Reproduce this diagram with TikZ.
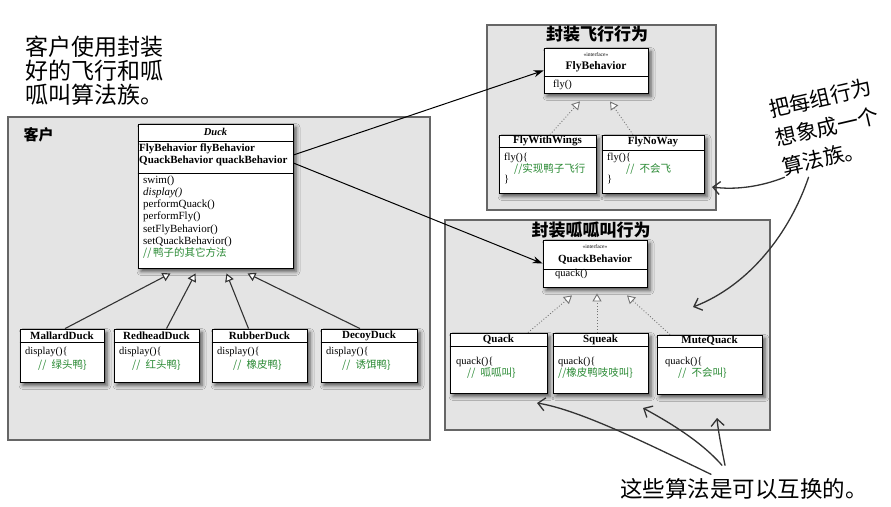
\documentclass[tikz,border=0pt]{standalone}
\usepackage{fontspec}
\setmainfont{Liberation Serif}
\newfontfamily\cjk{Noto Sans CJK SC}
\usetikzlibrary{arrows.meta,shadows.blur}
\definecolor{panelgray}{HTML}{E4E4E4}
\definecolor{paneledge}{HTML}{666666}
\definecolor{commentgreen}{HTML}{2A8A34}
\definecolor{penink}{HTML}{333333}
\newcommand{\cmt}[1]{{\color{commentgreen}\cjk\fontsize{10.5}{12.2}\selectfont #1}}

\begin{document}
\begin{tikzpicture}[x=1pt,y=-1pt,
    panel/.style={draw=paneledge, line width=1.6pt, fill=panelgray, inner sep=0pt},
    classbox/.style={draw, fill=white, line width=0.8pt, inner sep=0pt,
        blur shadow={shadow xshift=3pt, shadow yshift=-3.5pt, shadow blur radius=4pt, shadow opacity=65}},
    ctitle/.style={font=\fontsize{11}{12}\selectfont\bfseries, inner sep=0pt},
    cbody/.style={font=\fontsize{11}{12.2}\selectfont, align=left, inner sep=0pt, anchor=north west},
    note/.style={font=\cjk\fontsize{23}{24}\selectfont, align=left, inner sep=0pt},
    ptitle/.style={font=\cjk\bfseries\fontsize{17}{20}\selectfont, inner sep=0pt},
    inherit/.style={draw=black!80, line width=1.1pt, -{Triangle[open, fill=white, length=8pt, width=9pt]}},
    realize/.style={draw=black!55, dotted, line width=0.9pt, -{Triangle[open, fill=white, length=8pt, width=9pt]}},
    has/.style={line width=1pt, -{Stealth[length=10pt, width=7pt]}},
    pen/.style={draw=penink, line width=1.3pt, line cap=round, -{Straight Barb[length=7pt, width=13pt]}}]

        \fill[white] (0,0) rectangle (891,506);
        \useasboundingbox (0,0) rectangle (891,506);

        % panels
        \node[panel, minimum width=422pt, minimum height=323pt] (client) at (219,278.5) {};
        \node[panel, minimum width=229pt, minimum height=185pt] (flypanel) at (601.5,117.5) {};
        \node[panel, minimum width=325pt, minimum height=210pt] (quackpanel) at (607.5,325) {};
        \node[ptitle, font=\cjk\bfseries\fontsize{15}{18}\selectfont] (clientname) at (38.5,135) {客户};
        \node[ptitle] (flytitle) at (597,34) {封装飞行行为};
        \node[ptitle] (quacktitle) at (591,230) {封装呱呱叫行为};

        % Duck
        \node[classbox, minimum width=155pt, minimum height=144pt] (duck) at (215.5,196) {};
        \node[ctitle, font=\fontsize{10.5}{12}\selectfont\bfseries\itshape] (duckname) at (215.5,132) {Duck};
        \draw (duck.west |- 0,141) -- (duck.east |- 0,141);
        \node[cbody, font=\fontsize{11}{12}\selectfont\bfseries] (duckattr) at (139,144) {FlyBehavior flyBehavior\\QuackBehavior quackBehavior};
        \draw (duck.west |- 0,173) -- (duck.east |- 0,173);
        \node[cbody] (duckops) at (143,175.5) {swim()\\\textit{display()}\\performQuack()\\performFly()\\setFlyBehavior()\\setQuackBehavior()\\\cmt{//\,鸭子的其它方法}};

        % ducks
        \node[classbox, minimum width=84pt, minimum height=53pt] (mallard) at (62,355.5) {};
        \node[ctitle] (mallardname) at (62,335.5) {MallardDuck};
        \draw (mallard.west |- 0,342) -- (mallard.east |- 0,342);
        \node[cbody, font=\fontsize{10.5}{14}\selectfont] (mallardops) at (25,347.5) {display()\{\\\hspace*{13pt}\cmt{//\enspace 绿头鸭\}}};

        \node[classbox, minimum width=85pt, minimum height=53pt] (redhead) at (156.5,355.5) {};
        \node[ctitle] (redheadname) at (156.5,335.5) {RedheadDuck};
        \draw (redhead.west |- 0,342) -- (redhead.east |- 0,342);
        \node[cbody, font=\fontsize{10.5}{14}\selectfont] (redheadops) at (119,347.5) {display()\{\\\hspace*{13pt}\cmt{//\enspace 红头鸭\}}};

        \node[classbox, minimum width=95pt, minimum height=53pt] (rubber) at (259.5,355.5) {};
        \node[ctitle] (rubbername) at (259.5,335.5) {RubberDuck};
        \draw (rubber.west |- 0,342) -- (rubber.east |- 0,342);
        \node[cbody, font=\fontsize{10.5}{14}\selectfont] (rubberops) at (217,347.5) {display()\{\\\hspace*{16pt}\cmt{//\enspace 橡皮鸭\}}};

        \node[classbox, minimum width=96pt, minimum height=53pt] (decoy) at (369,355.5) {};
        \node[ctitle] (decoyname) at (369,335.5) {DecoyDuck};
        \draw (decoy.west |- 0,342) -- (decoy.east |- 0,342);
        \node[cbody, font=\fontsize{10.5}{14}\selectfont] (decoyops) at (326,347.5) {display()\{\\\hspace*{16pt}\cmt{//\enspace 诱饵鸭\}}};

        \draw[inherit] ([xshift=3pt]mallard.north) -- ([xshift=-45pt,yshift=-5pt]duck.south);
        \draw[inherit] ([xshift=10pt]redhead.north) -- ([xshift=-20pt,yshift=-5pt]duck.south);
        \draw[inherit] ([xshift=-11pt]rubber.north) -- ([xshift=11pt,yshift=-5pt]duck.south);
        \draw[inherit] ([xshift=-9pt]decoy.north) -- ([xshift=32pt,yshift=-5pt]duck.south);

        % fly behaviours
        \node[classbox, minimum width=104pt, minimum height=45pt] (flybeh) at (596,70.5) {};
        \node[inner sep=0pt, font=\fontsize{5.5}{6}\selectfont] (flystereo) at (596,55) {<<interface>>};
        \node[ctitle, font=\fontsize{11.5}{12}\selectfont\bfseries] (flybehname) at (596,67) {FlyBehavior};
        \draw (flybeh.west |- 0,76) -- (flybeh.east |- 0,76);
        \node[cbody, font=\fontsize{10.5}{12}\selectfont] (flybehops) at (553,79.5) {fly()};

        \node[classbox, minimum width=97pt, minimum height=58pt] (flywings) at (547.5,164) {};
        \node[ctitle] (flywingsname) at (547.5,141) {FlyWithWings};
        \draw (flywings.west |- 0,147) -- (flywings.east |- 0,147);
        \node[cbody, font=\fontsize{10.5}{10.5}\selectfont] (flywingsops) at (504,152.5) {fly()\{\\\hspace*{10pt}\cmt{//实现鸭子飞行}\\\}};

        \node[classbox, minimum width=102pt, minimum height=58pt] (flynoway) at (653,164) {};
        \node[ctitle] (flynowayname) at (653,142) {FlyNoWay};
        \draw (flynoway.west |- 0,150) -- (flynoway.east |- 0,150);
        \node[cbody, font=\fontsize{10.5}{10.5}\selectfont] (flynowayops) at (607,152.5) {fly()\{\\\hspace*{19pt}\cmt{//\enspace 不会飞}\\\}};

        \draw[realize] ([xshift=2.5pt]flywings.north) -- ([xshift=-16pt,yshift=-8pt]flybeh.south);
        \draw[realize] ([xshift=-20pt]flynoway.north) -- ([xshift=14pt,yshift=-8pt]flybeh.south);

        % quack behaviours
        \node[classbox, minimum width=104pt, minimum height=47pt] (quackbeh) at (595,263.5) {};
        \node[inner sep=0pt, font=\fontsize{5.5}{6}\selectfont] (quackstereo) at (595,247) {<<interface>>};
        \node[ctitle] (quackbehname) at (595,259.5) {QuackBehavior};
        \draw (quackbeh.west |- 0,269) -- (quackbeh.east |- 0,269);
        \node[cbody, font=\fontsize{10.5}{12}\selectfont] (quackbehops) at (555,269.5) {quack()};

        \node[classbox, minimum width=97pt, minimum height=60pt] (quack) at (498.5,363) {};
        \node[ctitle] (quackname) at (498.5,339.5) {Quack};
        \draw (quack.west |- 0,346) -- (quack.east |- 0,346);
        \node[cbody, font=\fontsize{10.5}{12}\selectfont] (quackops) at (456,357.5) {quack()\{\\\hspace*{11pt}\cmt{//\enspace 呱呱叫\}}};

        \node[classbox, minimum width=95pt, minimum height=60pt] (squeak) at (600.5,363) {};
        \node[ctitle] (squeakname) at (600.5,339.5) {Squeak};
        \draw (squeak.west |- 0,346) -- (squeak.east |- 0,346);
        \node[cbody, font=\fontsize{10.5}{12}\selectfont] (squeakops) at (558,357.5) {quack()\{\\\cmt{//橡皮鸭吱吱叫\}}};

        \node[classbox, minimum width=105pt, minimum height=59pt] (mutequack) at (709.5,364.5) {};
        \node[ctitle] (mutequackname) at (709.5,341) {MuteQuack};
        \draw (mutequack.west |- 0,347) -- (mutequack.east |- 0,347);
        \node[cbody, font=\fontsize{10.5}{12}\selectfont] (mutequackops) at (665,357.5) {quack()\{\\\hspace*{13pt}\cmt{//\enspace 不会叫\}}};

        \draw[realize] ([xshift=29.5pt]quack.north) -- ([xshift=-23pt,yshift=-8pt]quackbeh.south);
        \draw[realize] ([xshift=-3.5pt]squeak.north) -- ([xshift=2pt,yshift=-6pt]quackbeh.south);
        \draw[realize] ([xshift=-39.5pt]mutequack.north) -- ([xshift=32pt,yshift=-8pt]quackbeh.south);

        % Duck has-a
        \coordinate (flyref) at (duck.east |- 0,155);
        \coordinate (quackref) at (duck.east |- 0,163);
        \draw[has] (flyref) -- (flybeh.west);
        \draw[has] (quackref) -- (quackbeh.west);

        % notes
        \node[note, anchor=north west] (clientnote) at (25,36) {客户使用封装\\好的飞行和呱\\呱叫算法族。};
        \node[note, font=\cjk\fontsize{21}{29.5}\selectfont, rotate=13] (familynote) at (827,127) {把每组行为\\想象成一个\\算法族。};
        \node[note, font=\cjk\fontsize{22.5}{24}\selectfont] (swapnote) at (744,489) {这些算法是可以互换的。};

        \coordinate (nowayhit) at (712,187);
        \coordinate (quackpanelhit) at (693,307);
        \coordinate (quackhit) at (537,403);
        \coordinate (squeakhit) at (643,408);
        \coordinate (mutehit) at (717,418);
        \draw[pen] (familynote.south west) .. controls (760,187) and (735,190) .. (nowayhit);
        \draw[pen] ([xshift=24pt]familynote.south west) .. controls (790,232) and (750,285) .. (quackpanelhit);
        \draw[pen] ([xshift=-33pt,yshift=4pt]swapnote.north) .. controls (650,445) and (580,410) .. (quackhit);
        \draw[pen] ([xshift=-22pt,yshift=13pt]swapnote.north) .. controls (700,440) and (665,420) .. (squeakhit);
        \draw[pen] ([xshift=-19pt,yshift=13pt]swapnote.north) .. controls (721,445) and (718,430) .. (mutehit);

    \end{tikzpicture}
\end{document}
